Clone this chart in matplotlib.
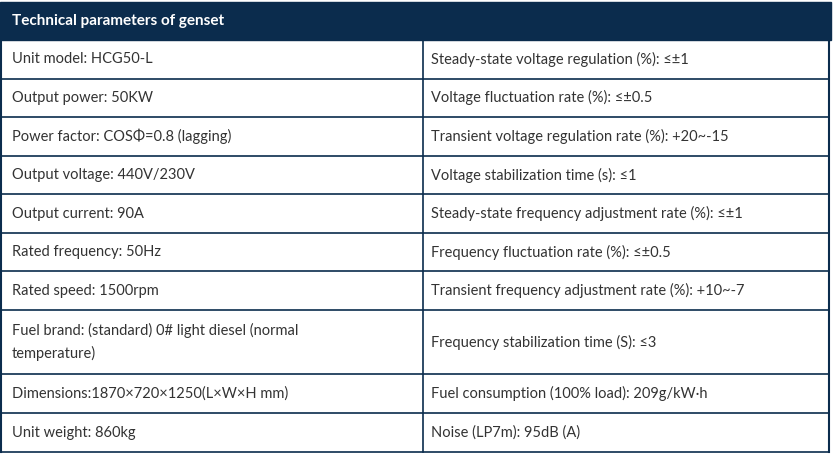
import matplotlib.pyplot as plt

title = "Technical parameters of genset"
left_col = [
    "Unit model: HCG50-L",
    "Output power: 50KW",
    "Power factor: COSΦ=0.8 (lagging)",
    "Output voltage: 440V/230V",
    "Output current: 90A",
    "Rated frequency: 50Hz",
    "Rated speed: 1500rpm",
    "Fuel brand: (standard) 0# light diesel (normal\ntemperature)",
    "Dimensions:1870×720×1250(L×W×H mm)",
    "Unit weight: 860kg",
]
right_col = [
    "Steady-state voltage regulation (%): ≤±1",
    "Voltage fluctuation rate (%): ≤±0.5",
    "Transient voltage regulation rate (%): +20~-15",
    "Voltage stabilization time (s): ≤1",
    "Steady-state frequency adjustment rate (%): ≤±1",
    "Frequency fluctuation rate (%): ≤±0.5",
    "Transient frequency adjustment rate (%): +10~-7",
    "Frequency stabilization time (S): ≤3",
    "Fuel consumption (100% load): 209g/kW·h",
    "Noise (LP7m): 95dB (A)",
]

navy = "#0b2c4d"
text_c = "#333333"
plt.rcParams['font.family'] = ['Lato', 'DejaVu Sans']

# row boundaries in pixels
bounds = [40 + 38.57 * i for i in range(8)] + [374, 413, 452]

fig = plt.figure(figsize=(8.35, 4.55), dpi=100)
ax = fig.add_axes([0, 0, 1, 1])
ax.set_xlim(0, 835)
ax.set_ylim(455, 0)
ax.axis("off")

ax.add_patch(plt.Rectangle((0, 2), 831, 38, color=navy))
ax.text(12, 21, title, color="white", fontsize=11, fontweight="bold", va="center")

for y in bounds[1:]:
    ax.plot([1, 829], [y, y], color=navy, lw=1.2)
ax.plot([1, 1], [40, 452], color=navy, lw=1.5)
ax.plot([829, 829], [40, 452], color=navy, lw=1.5)
ax.plot([422.5, 422.5], [40, 452], color=navy, lw=1.2)

for i in range(len(left_col)):
    yc = (bounds[i] + bounds[i + 1]) / 2
    ax.text(12, yc, left_col[i], color=text_c, fontsize=10.5, va="center", linespacing=1.7)
    ax.text(431, yc, right_col[i], color=text_c, fontsize=10.5, va="center")

fig.savefig("out.png", dpi=100)
